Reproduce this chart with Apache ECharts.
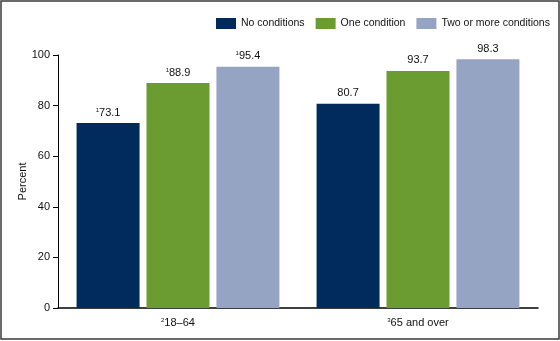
<!DOCTYPE html>
<html><head><meta charset="utf-8">
<script src="https://cdn.jsdelivr.net/npm/echarts@6/dist/echarts.min.js"></script>
<style>html,body{margin:0;padding:0;background:#fff}#c{width:560px;height:341px}</style>
</head><body><div id="c"></div>
<script>
var categories = ['18–64', '65 and over'];
var categoryNotes = ['2', '3'];
var seriesNames = ['No conditions', 'One condition', 'Two or more conditions'];
var noConditions = [73.1, 80.7];
var oneCondition = [88.9, 93.7];
var twoOrMore = [95.4, 98.3];
var valueNotes = [['1', ''], ['1', ''], ['1', '']];
var yTicks = [0, 20, 40, 60, 80, 100];
var colors = ['#002b5c', '#6b9c31', '#96a4c4'];

var chart = echarts.init(document.getElementById('c'), null, {renderer: 'canvas'});
var font = 'Liberation Sans, Arial, sans-serif';
var seriesData = [noConditions, oneCondition, twoOrMore];

function mkSeries(i) {
  return {
    name: seriesNames[i], type: 'bar', data: seriesData[i],
    barWidth: 63, barGap: '11%',
    itemStyle: {color: colors[i]},
    label: {
      show: true, position: 'top', distance: 5,
      formatter: function (p) {
        var n = valueNotes[i][p.dataIndex];
        return (n ? '{sup|' + n + '}' : '') + '{v|' + p.value.toFixed(1) + '}';
      },
      rich: {
        v: {fontSize: 11, color: '#111', fontFamily: font},
        sup: {fontSize: 6, color: '#111', fontFamily: font, padding: [0, 0, 5, 0]}
      }
    }
  };
}

chart.setOption({
  animation: false,
  backgroundColor: '#fff',
  textStyle: {fontFamily: font},
  legend: {
    top: 13, left: 211, itemWidth: 20, itemHeight: 11, itemGap: 11,
    icon: 'rect', orient: 'horizontal',
    textStyle: {fontSize: 10.5, color: '#111', fontFamily: font},
    data: seriesNames
  },
  grid: {left: 58, right: 22, top: 55, bottom: 33},
  xAxis: {
    type: 'category', data: categories,
    axisLine: {lineStyle: {color: '#000', width: 1.5}},
    axisTick: {show: false},
    axisLabel: {
      margin: 9,
      formatter: function (v, i) { return '{sup|' + categoryNotes[i] + '}{v|' + v + '}'; },
      rich: {
        v: {fontSize: 11, color: '#111', fontFamily: font},
        sup: {fontSize: 6, color: '#111', fontFamily: font, padding: [0, 0, 5, 0]}
      }
    }
  },
  yAxis: {
    type: 'value', min: yTicks[0], max: yTicks[yTicks.length - 1], interval: 20,
    name: 'Percent', nameLocation: 'middle', nameGap: 30, nameMoveOverlap: false,
    nameTextStyle: {fontSize: 11, color: '#111', fontFamily: font},
    axisLine: {show: true, lineStyle: {color: '#000', width: 1}},
    axisTick: {show: true, length: 5, lineStyle: {color: '#000'}},
    axisLabel: {fontSize: 11, color: '#111', margin: 8, fontFamily: font},
    splitLine: {show: false}
  },
  graphic: [{
    type: 'rect', shape: {x: 1, y: 1, width: 558, height: 338},
    style: {fill: 'none', stroke: '#3a3a3a', lineWidth: 1.5}, silent: true
  }],
  series: [mkSeries(0), mkSeries(1), mkSeries(2)]
});
</script></body></html>
